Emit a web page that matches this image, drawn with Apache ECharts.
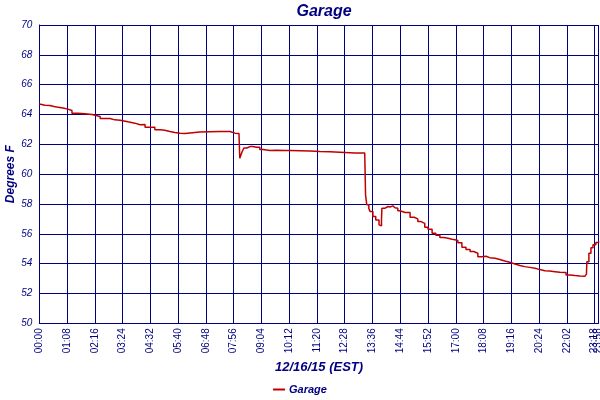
<!DOCTYPE html>
<html>
<head>
<meta charset="utf-8">
<script src="https://cdn.jsdelivr.net/npm/echarts@6/dist/echarts.min.js"></script>
<style>html,body{margin:0;padding:0;background:#fff}#c{width:600px;height:400px}</style>
</head>
<body>
<div id="c"></div>
<script>
// x = sample index (one label every 68 samples), y = degrees F
var sampleIdx = [0,4,14,26,36,43,58,70,80,95,112,129,149,173,185,198,217,234,247,259,283,296,307,320,332,345,357,369,381,393,418,442,457,467,479,489,491,494,497,501,508,516,523,532,540,548,565,581,602,614,638,663,687,712,736,761,773,797,799,802,807,810,817,824,832,836,838,839,847,854,859,866,871,878,883,896,908,918,927,935,944,952,962,971,981,991,1001,1011,1018,1025,1035,1045,1055,1064,1074,1084,1094,1103,1116,1128,1140,1152,1165,1177,1189,1201,1214,1226,1238,1250,1263,1275,1290,1299,1312,1324,1336,1340,1341,1346,1351,1356,1363,1370];
var garage = [64.70,64.62,64.60,64.54,64.50,64.43,64.36,64.27,64.09,64.05,64.00,63.87,63.73,63.64,63.62,63.51,63.42,63.31,63.33,63.15,62.97,62.95,62.86,62.80,62.75,62.73,62.76,62.79,62.82,62.84,62.86,62.86,62.86,62.75,62.73,62.70,61.07,61.30,61.52,61.75,61.85,61.85,61.80,61.81,61.65,61.58,61.60,61.58,61.58,61.57,61.55,61.52,61.50,61.47,61.43,61.41,61.41,61.41,58.61,57.94,57.70,57.49,57.16,56.93,56.60,56.53,56.90,57.72,57.83,57.80,57.87,57.75,57.72,57.55,57.43,57.43,57.11,57.00,56.82,56.70,56.44,56.30,56.04,55.90,55.75,55.70,55.64,55.60,55.55,55.40,55.10,54.95,54.81,54.70,54.47,54.50,54.40,54.36,54.28,54.18,54.10,53.98,53.88,53.80,53.75,53.69,53.60,53.53,53.50,53.46,53.42,53.40,53.24,53.20,53.17,53.15,53.17,53.30,54.13,54.70,55.07,55.26,55.41,55.48];
var tickLabels = ['00:00','01:08','02:16','03:24','04:32','05:40','06:48','07:56','09:04','10:12','11:20','12:28','13:36','14:44','15:52','17:00','18:08','19:16','20:24','22:02','23:18'];
var lastLabel = '23:58';
var samplesPerTick = 68;
var lastSample = 1370;

var navy = '#000080';
var font = 'Liberation Sans';
var pts = sampleIdx.map(function (x, i) { return [x, garage[i]]; });

var labelStyle = {rotate: 90, margin: 5, color: navy, fontFamily: font, fontSize: 10, hideOverlap: false};

var chart = echarts.init(document.getElementById('c'), null, {renderer: 'canvas'});
chart.setOption({
  animation: false,
  backgroundColor: '#fff',
  title: {
    text: 'Garage', left: 319, top: -1, textAlign: 'center',
    textStyle: {color: navy, fontFamily: font, fontSize: 16, fontWeight: 'bold', fontStyle: 'italic'}
  },
  legend: {
    bottom: 0, left: 'center',
    itemWidth: 12, itemHeight: 2, itemGap: 4,
    icon: 'rect',
    textStyle: {color: navy, fontFamily: font, fontSize: 11, fontWeight: 'bold', fontStyle: 'italic', padding: [0,0,0,-1]},
    data: ['Garage']
  },
  grid: {left: 39.3, right: 1.3, top: 25, bottom: 76.7, containLabel: false, outerBoundsMode: 'none'},
  xAxis: [{
    type: 'value', min: 0, max: lastSample, interval: samplesPerTick,
    name: '12/16/15 (EST)', nameLocation: 'middle', nameGap: 38,
    nameTextStyle: {color: navy, fontFamily: font, fontSize: 13, fontWeight: 'bold', fontStyle: 'italic'},
    axisLine: {show: true, lineStyle: {color: navy, width: 1}},
    axisTick: {show: false},
    splitLine: {show: true, lineStyle: {color: navy, width: 1}},
    axisLabel: Object.assign({}, labelStyle, {
      showMinLabel: true, showMaxLabel: false,
      formatter: function (v) {
        if (v >= lastSample) return '';
        return tickLabels[Math.round(v / samplesPerTick)] || '';
      }
    })
  }, {
    // carries only the final time label at the right end of the same scale
    type: 'value', min: 0, max: lastSample, interval: samplesPerTick,
    position: 'bottom', offset: 0,
    axisLine: {show: false}, axisTick: {show: false}, splitLine: {show: false},
    axisLabel: Object.assign({}, labelStyle, {
      showMinLabel: false, showMaxLabel: true,
      formatter: function (v) { return v >= lastSample ? lastLabel : ''; }
    })
  }],
  yAxis: {
    type: 'value', min: 50, max: 70, interval: 2,
    name: 'Degrees F', nameLocation: 'middle', nameGap: 23, nameMoveOverlap: false,
    nameTextStyle: {color: navy, fontFamily: font, fontSize: 12, fontWeight: 'bold', fontStyle: 'italic'},
    axisLine: {show: true, lineStyle: {color: navy, width: 1}},
    axisTick: {show: false},
    splitLine: {show: true, lineStyle: {color: navy, width: 1}},
    axisLabel: {color: navy, fontFamily: font, fontSize: 10, fontStyle: 'italic', margin: 7}
  },
  series: [{
    name: 'Garage', type: 'line', data: pts, step: 'end', xAxisIndex: 0,
    showSymbol: false, symbol: 'none',
    lineStyle: {color: '#C00000', width: 1.5},
    itemStyle: {color: '#C00000'}
  }]
});
</script>
</body>
</html>
